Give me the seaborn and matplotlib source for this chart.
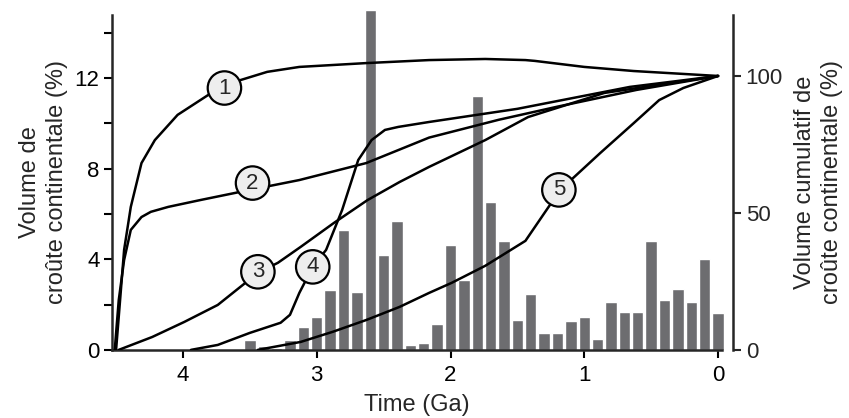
import numpy as np
import pandas as pd
import seaborn as sns
import matplotlib.pyplot as plt
from matplotlib.ticker import MultipleLocator

# histogram of crust volume (%), bins of 0.1 Ga
bin_age = [3.5, 3.4, 3.3, 3.2, 3.1, 3.0, 2.9, 2.8, 2.7, 2.6, 2.5, 2.4, 2.3, 2.2,
           2.1, 2.0, 1.9, 1.8, 1.7, 1.6, 1.5, 1.4, 1.3, 1.2, 1.1, 1.0, 0.9, 0.8,
           0.7, 0.6, 0.5, 0.4, 0.3, 0.2, 0.1, 0.0]
bin_vol = [0.44, 0.19, 0.10, 0.44, 1.00, 1.47, 2.65, 5.30, 2.57, 15.0, 4.19, 5.67, 0.22, 0.32,
           1.15, 4.62, 3.09, 11.23, 6.52, 4.80, 1.31, 2.46, 0.74, 0.74, 1.27, 1.44, 0.46, 2.10,
           1.69, 1.69, 4.80, 2.21, 2.69, 2.10, 4.03, 1.62]

# cumulative growth models (%)
t1 = [4.50, 4.47, 4.44, 4.39, 4.31, 4.21, 4.04, 3.81, 3.57, 3.37, 3.13, 2.63, 2.16, 1.74, 1.44, 1.37, 1.00, 0.63, 0.0]
v1 = [0, 18.2, 36.5, 52.2, 68.2, 76.6, 85.8, 93.1, 98.5, 101.5, 103.3, 104.7, 105.8, 106.2, 105.8, 105.5, 103.3, 101.8, 100]
t2 = [4.51, 4.48, 4.44, 4.39, 4.31, 4.24, 4.11, 3.87, 3.50, 3.13, 2.63, 2.16, 1.64, 1.20, 0.61, 0.0]
v2 = [0, 18.2, 32.8, 43.8, 48.5, 50.4, 52.2, 54.7, 58.4, 62.0, 68.2, 77.5, 84.0, 88.8, 94.9, 100]
t3 = [4.48, 4.23, 3.99, 3.74, 3.44, 3.29, 3.12, 2.87, 2.62, 2.38, 2.16, 1.74, 1.42, 0.85, 0.0]
v3 = [0, 4.7, 10.2, 16.4, 28.1, 31.8, 37.6, 46.4, 54.7, 61.3, 66.8, 76.6, 85.0, 93.8, 100]
t4 = [3.94, 3.74, 3.50, 3.27, 3.20, 3.13, 3.03, 2.93, 2.81, 2.69, 2.59, 2.49, 2.39, 2.16, 1.50, 0.66, 0.0]
v4 = [0, 1.8, 6.2, 9.9, 12.8, 20.8, 30.3, 36.5, 51.1, 69.3, 76.6, 80.3, 81.4, 83.2, 88.0, 96.0, 100]
t5 = [3.44, 3.12, 2.88, 2.63, 2.38, 2.16, 1.99, 1.74, 1.44, 1.18, 0.88, 0.63, 0.44, 0.26, 0.0]
v5 = [0, 2.9, 6.6, 10.9, 15.7, 20.8, 24.5, 30.7, 39.8, 58.4, 71.9, 82.8, 91.2, 95.6, 100]

labels = ['1', '2', '3', '4', '5']
label_t = [3.69, 3.48, 3.44, 3.03, 1.19]
label_v = [95.6, 60.9, 28.5, 30.3, 58.4]

sns.set_style('ticks')
plt.rcParams['font.family'] = ['Liberation Sans', 'DejaVu Sans']

fig = plt.figure(figsize=(8.49, 4.18), dpi=100)
ax = fig.add_axes([0.132, 0.163, 0.7185, 0.8014])

df_bins = pd.DataFrame({'age': bin_age, 'vol': bin_vol})
sns.barplot(data=df_bins, x='age', y='vol', native_scale=True, width=0.85,
            color='#6d6d70', saturation=1, ax=ax)
for p in ax.patches:
    p.set_clip_on(False)

ax.set_xlim(4.53, -0.03)
ax.set_ylim(0, 14.79)
ax.set_xticks([4, 3, 2, 1, 0])
ax.set_xticklabels(['4', '3', '2', '1', '0'])
ax.yaxis.set_major_locator(MultipleLocator(4))
ax.yaxis.set_minor_locator(MultipleLocator(2))
ax.tick_params(axis='both', which='both', direction='out', length=6, width=1.5,
               labelsize=16, colors='black', pad=3)
ax.tick_params(axis='x', pad=5)
ax.set_xlabel('Time (Ga)', fontsize=17, labelpad=6)
ax.set_ylabel('Volume de\ncroûte continentale (%)', fontsize=17, labelpad=5,
              linespacing=1.3)
for s in ['left', 'bottom']:
    ax.spines[s].set_linewidth(1.8)
sns.despine(ax=ax)

ax2 = ax.twinx()
curves = [(t1, v1), (t2, v2), (t3, v3), (t4, v4), (t5, v5)]
for tt, vv in curves:
    d = pd.DataFrame({'t': tt, 'v': vv})
    sns.lineplot(data=d, x='t', y='v', sort=False, estimator=None,
                 color='black', lw=1.8, ax=ax2)
for lab, xt, yv in zip(labels, label_t, label_v):
    ax2.text(xt, yv, lab, ha='center', va='center', fontsize=16,
             bbox=dict(boxstyle='circle,pad=0.28', fc='#eeeeee', ec='black', lw=1.6))

ax2.set_xlim(4.53, -0.03)
ax2.set_ylim(0, 122.3)
ax2.set_yticks([0, 50, 100])
for s in ['top', 'left', 'bottom']:
    ax2.spines[s].set_visible(False)
ax2.spines['right'].set_position(('outward', 8))
ax2.spines['right'].set_linewidth(1.8)
ax2.tick_params(axis='y', direction='out', length=6, width=1.5, labelsize=16, pad=3)
ax2.set_xlabel('')
ax2.set_ylabel('Volume cumulatif de\ncroûte continentale (%)', fontsize=17, labelpad=8,
               linespacing=1.3)

fig.savefig('out.png', dpi=100)
